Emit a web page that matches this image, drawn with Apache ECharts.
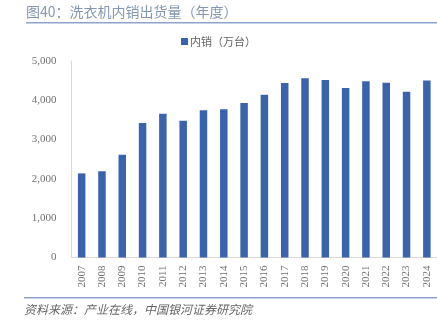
<!DOCTYPE html>
<html><head><meta charset="utf-8">
<script src="https://cdn.jsdelivr.net/npm/echarts@6/dist/echarts.min.js"></script>
<style>html,body{margin:0;padding:0;background:#fff}#c{width:437px;height:328px}</style>
</head><body><div id="c"></div>
<script>
const categories = ['2007','2008','2009','2010','2011','2012','2013','2014','2015','2016','2017','2018','2019','2020','2021','2022','2023','2024'];
const domesticSales = [2140,2195,2615,3420,3655,3480,3750,3770,3930,4140,4440,4560,4515,4310,4485,4445,4215,4505];
const yTicks = {min:0, max:5000, interval:1000};
const titleText = '图40：洗衣机内销出货量（年度）';
const seriesName = '内销（万台）';
const sourceText = '资料来源：产业在线，中国银河证券研究院';

const chart = echarts.init(document.getElementById('c'), null, {renderer:'canvas'});
chart.setOption({
  animation:false,
  backgroundColor:'#fff',
  grid:{left:71.5, right:0, top:61, bottom:70.5, containLabel:false},
  legend:{top:31, left:'center', itemWidth:7, itemHeight:7, icon:'rect', itemGap:5,
    textStyle:{fontFamily:'Noto Sans CJK SC', fontSize:11, color:'#666', padding:[0,0,0,-3]},
    data:[seriesName]},
  xAxis:{type:'category', data:categories,
    axisLine:{lineStyle:{color:'#d9d9d9'}}, axisTick:{show:false},
    axisLabel:{rotate:90, margin:8, fontFamily:'Liberation Serif', fontSize:11, color:'#707070'}},
  yAxis:{type:'value', min:yTicks.min, max:yTicks.max, interval:yTicks.interval,
    axisLine:{show:true, lineStyle:{color:'#d9d9d9'}}, axisTick:{show:false}, splitLine:{show:false},
    axisLabel:{margin:15, fontFamily:'Liberation Serif', fontSize:11, color:'#707070',
      formatter:v=>v.toLocaleString('en-US')}},
  series:[{name:seriesName, type:'bar', data:domesticSales, barWidth:7.5, itemStyle:{color:'#3A63AD'}}],
  graphic:[
    {type:'text', left:26, top:5, style:{text:titleText, font:'14px "Noto Sans CJK SC"', fill:'#8497B0'}},
    {type:'rect', shape:{x:26, y:22, width:411, height:1.5}, style:{fill:'#8EA3CD'}},
    {type:'rect', shape:{x:24, y:297, width:413, height:1.5}, style:{fill:'#8EA3CD'}},
    {type:'text', left:24, top:303, style:{text:sourceText, font:'italic 12px "Noto Sans CJK SC"', fill:'#666'}}
  ]
});
</script></body></html>
